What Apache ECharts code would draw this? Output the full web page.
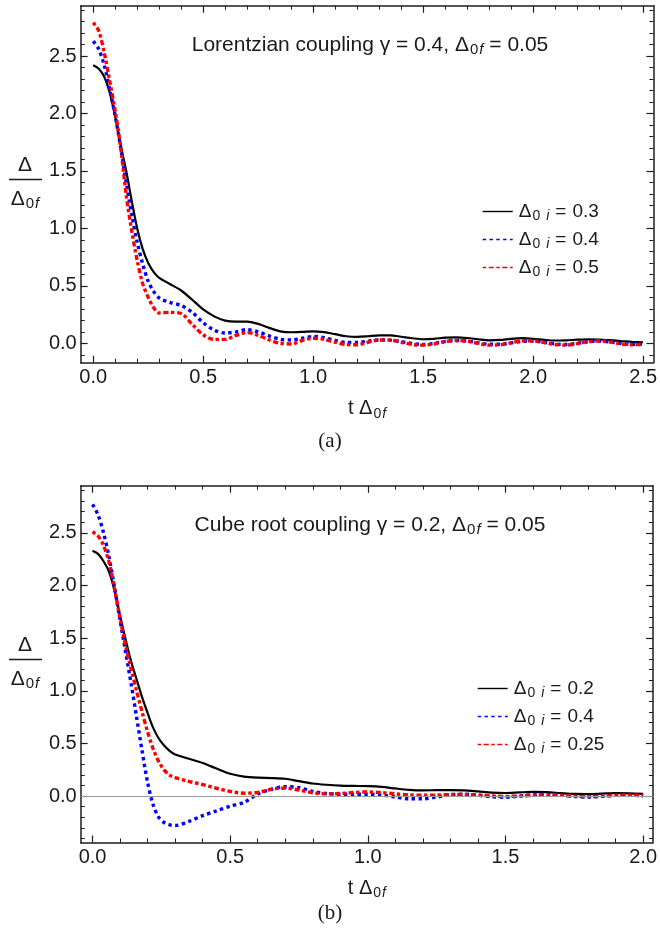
<!DOCTYPE html>
<html><head><meta charset="utf-8">
<script src="https://cdn.jsdelivr.net/npm/echarts@6/dist/echarts.min.js"></script>
<style>html,body{margin:0;padding:0;background:#fff}#c{width:660px;height:938px}</style>
</head><body><div id="c"></div>
<script>
// ---------- data (a) Lorentzian coupling ----------
const topT = [0,0.025,0.05,0.075,0.1,0.125,0.15,0.175,0.2,0.225,0.25,0.275,0.3,
  0.35,0.4,0.45,0.5,0.55,0.6,0.65,0.7,0.75,0.8,
  0.85,0.9,0.95,1.0,1.05,1.1,1.15,1.2,1.25,1.3,
  1.35,1.4,1.45,1.5,1.55,1.6,1.65,1.7,1.75,1.8,
  1.85,1.9,1.95,2.0,2.05,2.1,2.15,2.2,2.25,2.3,
  2.35,2.4,2.45,2.5];
const topD03 = [2.42,2.39,2.32,2.18,1.97,1.72,1.50,1.24,1.00,0.82,0.70,0.62,0.57,
  0.515,0.46,0.38,0.295,0.235,0.198,0.19,0.19,0.17,0.135,
  0.105,0.097,0.10,0.105,0.098,0.08,0.062,0.056,0.062,0.07,
  0.07,0.058,0.045,0.036,0.04,0.05,0.052,0.047,0.036,0.027,
  0.03,0.04,0.045,0.04,0.031,0.025,0.027,0.032,0.035,0.034,
  0.028,0.02,0.014,0.01];
const topD04 = [2.63,2.56,2.42,2.21,1.98,1.70,1.40,1.12,0.88,0.69,0.54,0.45,0.395,
  0.355,0.33,0.27,0.18,0.115,0.09,0.10,0.12,0.10,0.065,
  0.035,0.03,0.045,0.06,0.05,0.025,0.008,0.008,0.02,0.03,
  0.028,0.015,0.0,-0.01,0.0,0.018,0.025,0.02,0.005,-0.008,
  -0.008,0.005,0.018,0.02,0.01,-0.005,-0.01,0.0,0.015,0.02,
  0.012,0.0,-0.008,-0.005];
const topD05 = [2.79,2.72,2.53,2.28,2.02,1.70,1.29,0.98,0.72,0.52,0.40,0.31,0.265,
  0.27,0.26,0.165,0.075,0.035,0.035,0.07,0.095,0.07,0.03,
  0.0,-0.005,0.025,0.045,0.035,0.01,-0.01,-0.012,0.01,0.03,
  0.03,0.01,-0.01,-0.015,-0.005,0.015,0.025,0.02,0.0,-0.015,
  -0.012,0.005,0.022,0.022,0.008,-0.01,-0.015,-0.002,0.015,0.022,
  0.012,-0.005,-0.012,-0.008];
const topLabels = ['0.3','0.4','0.5'];
const topXTicks = [0,0.5,1,1.5,2,2.5];
const topYTicks = [0,0.5,1,1.5,2,2.5];

// ---------- data (b) Cube root coupling ----------
const botT = [0,0.02,0.04,0.06,0.08,0.1,0.12,0.14,0.16,0.18,0.2,0.22,0.24,0.26,0.28,0.3,
  0.35,0.4,0.45,0.5,0.55,0.6,0.65,0.7,0.75,0.8,
  0.85,0.9,0.95,1.0,1.05,1.1,1.15,1.2,1.25,1.3,
  1.35,1.4,1.45,1.5,1.55,1.6,1.65,1.7,1.75,1.8,
  1.85,1.9,1.95,2.0];
const botD02 = [2.33,2.30,2.23,2.13,1.95,1.71,1.49,1.28,1.11,0.94,0.79,0.65,0.55,0.48,0.43,0.395,
  0.355,0.315,0.262,0.212,0.185,0.175,0.172,0.165,0.142,0.12,
  0.108,0.10,0.097,0.095,0.088,0.073,0.06,0.055,0.057,0.058,
  0.055,0.045,0.034,0.03,0.035,0.04,0.038,0.029,0.021,0.02,
  0.024,0.028,0.027,0.022];
const botD04 = [2.77,2.67,2.50,2.27,1.98,1.67,1.37,1.07,0.75,0.43,0.13,-0.08,-0.2,-0.25,-0.272,-0.278,
  -0.24,-0.185,-0.14,-0.095,-0.06,0.02,0.065,0.09,0.08,0.045,
  0.025,0.018,0.018,0.018,0.01,-0.008,-0.025,-0.025,-0.008,0.012,
  0.018,0.008,-0.005,-0.01,0.0,0.015,0.018,0.01,-0.003,-0.008,
  -0.002,0.01,0.012,0.002];
const botD025 = [2.51,2.47,2.38,2.22,1.97,1.69,1.43,1.21,1.0,0.80,0.61,0.45,0.33,0.25,0.20,0.175,
  0.14,0.11,0.075,0.045,0.028,0.035,0.065,0.077,0.058,0.032,
  0.022,0.025,0.035,0.04,0.033,0.022,0.012,0.008,0.01,0.015,
  0.015,0.01,0.002,-0.002,0.0,0.008,0.012,0.008,0.0,-0.004,
  0.0,0.008,0.01,0.004];
const botLabels = ['0.2','0.4','0.25'];
const botXTicks = [0,0.5,1,1.5,2];
const botYTicks = [0,0.5,1,1.5,2,2.5];

// ---------- helpers ----------
const FONT = "'Liberation Sans', Arial, sans-serif";
const SERIF = "'Liberation Serif', 'DejaVu Serif', serif";
const INK = '#1e1e1e';
const TXT = '#1a1a1a';
const zip = (t, v) => t.map((x, i) => [x, v[i]]);
function minorsOf(min, max, majors) {
  const out = [];
  for (let k = Math.ceil(min * 10 - 1e-9); k <= Math.floor(max * 10 + 1e-9); k++) {
    const v = k / 10;
    if (!majors.some(m => Math.abs(m - v) < 1e-9)) out.push(v);
  }
  return out;
}
function axesFor(dim, grid, min, max, majors, extra) {
  const pos = dim === 'x' ? ['bottom', 'top'] : ['left', 'right'];
  const minors = minorsOf(min, max, majors);
  const out = [];
  pos.forEach((p, k) => {
    out.push(Object.assign({
      type: 'value', gridIndex: grid, position: p, min: min, max: max,
      axisLine: {show: true, onZero: false, lineStyle: {color: INK, width: 1.5}},
      axisTick: {show: true, inside: true, length: 7, customValues: majors, lineStyle: {color: INK, width: 1.2}},
      axisLabel: {show: k === 0, customValues: majors, formatter: v => v.toFixed(1),
        margin: dim === 'x' ? 5 : 4, fontSize: 20, fontFamily: FONT, color: TXT},
      splitLine: {show: false}
    }, k === 0 ? (extra || {}) : {}));
    out.push({
      type: 'value', gridIndex: grid, position: p, min: min, max: max,
      axisLine: {show: false, onZero: false},
      axisTick: {show: true, inside: true, length: 4, customValues: minors, lineStyle: {color: INK, width: 1}},
      axisLabel: {show: false}, splitLine: {show: false}
    });
  });
  return out;
}
const subRich = {
  s: {fontSize: 14, fontFamily: FONT, color: TXT, lineHeight: 10, verticalAlign: 'bottom', padding: [0, 1, 0, 1]},
  si: {fontSize: 14, fontFamily: FONT, fontStyle: 'italic', color: TXT, lineHeight: 10, verticalAlign: 'bottom'}
};
const xName = {
  name: 't Δ{s|0}{si|f}', nameLocation: 'middle', nameGap: 34,
  nameTextStyle: {fontSize: 20, fontFamily: FONT, color: TXT, lineHeight: 24, rich: subRich}
};
const legendRich = {
  d: {fontSize: 19, fontFamily: FONT, color: TXT, lineHeight: 24},
  D: {fontSize: 19, fontFamily: FONT, color: TXT, lineHeight: 24, padding: [0, 0, 0, 1]},
  eq: {fontSize: 19, fontFamily: FONT, color: TXT, lineHeight: 24, padding: [0, 6, 0, 6]},
  s: {fontSize: 14, fontFamily: FONT, color: TXT, lineHeight: 10, verticalAlign: 'bottom', padding: [0, 6, 0, 1]},
  si: {fontSize: 14, fontFamily: FONT, fontStyle: 'italic', color: TXT, lineHeight: 10, verticalAlign: 'bottom'}
};
const legendFmt = name => '{D|Δ}{s|0}{si|i}{eq|=}{d|' + name.slice(1) + '}';

const BLACK = {color: '#000', width: 2.2, type: 'solid'};
const BLUE = {color: '#0000ff', width: 3.4, type: [3.4, 3.4], cap: 'butt'};
const RED = {color: '#ff0000', width: 3.4, type: [3.4, 2.6, 5, 2.6], cap: 'butt'};
function mkSeries(name, data, style, xi, yi, z, extra) {
  return Object.assign({
    type: 'line', name: name, data: data, xAxisIndex: xi, yAxisIndex: yi,
    showSymbol: false, symbol: 'none', smooth: 0.3, lineStyle: style,
    itemStyle: {color: style.color}, z: z, animation: false, clip: true
  }, extra || {});
}

const topMinX = -0.057, topMaxX = 2.547, topMinY = -0.168, topMaxY = 2.938;
const botMinX = -0.043, botMaxX = 2.036, botMinY = -0.44, botMaxY = 2.947;

const xAxes = [].concat(
  axesFor('x', 0, topMinX, topMaxX, topXTicks, xName),
  axesFor('x', 1, botMinX, botMaxX, botXTicks, xName));
const yAxes = [].concat(
  axesFor('y', 0, topMinY, topMaxY, topYTicks),
  axesFor('y', 1, botMinY, botMaxY, botYTicks));

const topNames = topLabels.map(l => 'a' + l);
const botNames = botLabels.map(l => 'b' + l);

const series = [
  mkSeries(topNames[0], zip(topT, topD03), BLACK, 0, 0, 2),
  mkSeries(topNames[1], zip(topT, topD04), BLUE, 0, 0, 3),
  mkSeries(topNames[2], zip(topT, topD05), RED, 0, 0, 4),
  mkSeries(botNames[0], zip(botT, botD02), BLACK, 4, 4, 2, {
    markLine: {silent: true, symbol: ['none', 'none'], label: {show: false}, animation: false,
      lineStyle: {color: '#9a9a9a', width: 1, type: 'solid'}, data: [{yAxis: 0}]}
  }),
  mkSeries(botNames[1], zip(botT, botD04), BLUE, 4, 4, 3),
  mkSeries(botNames[2], zip(botT, botD025), RED, 4, 4, 4)
];

function legendAt(names, left, top) {
  return {
    data: names, orient: 'vertical', left: left, top: top, padding: 0,
    itemWidth: 30, itemHeight: 14, itemGap: 6.5, formatter: legendFmt,
    textStyle: {rich: legendRich, fontSize: 19, fontFamily: FONT, color: TXT},
    itemStyle: {opacity: 0},
    lineStyle: {width: 1.4}, selectedMode: false
  };
}

const baseText = {fontSize: 21, fontFamily: FONT, fill: TXT, lineHeight: 24,
  align: 'center', verticalAlign: 'middle', textAlign: 'center', textVerticalAlign: 'middle'};
const richT = {
  s: {fontSize: 15, fontFamily: FONT, fill: TXT, lineHeight: 10, verticalAlign: 'bottom', padding: [0, 1, 0, 1]},
  si: {fontSize: 15, fontFamily: FONT, fontStyle: 'italic', fill: TXT, lineHeight: 10, verticalAlign: 'bottom'}
};
function txt(x, y, text, extra) {
  return {type: 'text', x: x, y: y, silent: true,
    style: Object.assign({}, baseText, {text: text, rich: richT}, extra || {})};
}
function fraction(dy) {
  return [
    txt(25, 165 + dy, 'Δ', {fontSize: 21}),
    {type: 'line', silent: true, shape: {x1: 9, y1: 179.5 + dy, x2: 42, y2: 179.5 + dy},
      style: {stroke: TXT, lineWidth: 1.4}},
    txt(25, 199 + dy, 'Δ{s|0}{si|f}', {fontSize: 21})
  ];
}

const option = {
  backgroundColor: '#fff',
  animation: false,
  grid: [
    {left: 80.7, top: 5.7, width: 576.3, height: 357, containLabel: false},
    {left: 80.7, top: 485.7, width: 576.3, height: 356.8, containLabel: false}
  ],
  xAxis: xAxes,
  yAxis: yAxes,
  legend: [legendAt(topNames, 482, 202), legendAt(botNames, 477, 679)],
  series: series,
  graphic: [].concat(
    [txt(370, 45, 'Lorentzian coupling γ = 0.4, Δ{s|0}{si|f} = 0.05'),
     txt(370, 525, 'Cube root coupling γ = 0.2, Δ{s|0}{si|f} = 0.05'),
     txt(330, 441, '(a)', {fontFamily: SERIF, fontSize: 21}),
     txt(330, 913, '(b)', {fontFamily: SERIF, fontSize: 21})],
    fraction(0), fraction(480))
};

const chart = echarts.init(document.getElementById('c'), null, {renderer: 'canvas'});
chart.setOption(option);
</script>
</body></html>
